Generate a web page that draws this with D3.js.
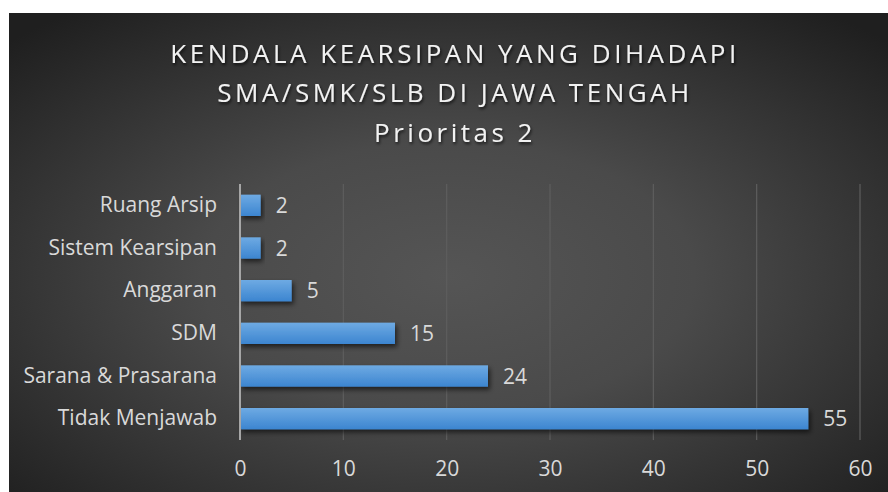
<!DOCTYPE html>
<html>
<head>
<meta charset="utf-8">
<script src="https://cdn.jsdelivr.net/npm/d3@7"></script>
<style>
  body { margin: 0; background: #fff; }
  text { font-family: "Open Sans", "Noto Sans", sans-serif; }
</style>
</head>
<body>
<div id="chart"></div>
<script>
// data, top of chart first
const categories = ["Ruang Arsip", "Sistem Kearsipan", "Anggaran", "SDM", "Sarana & Prasarana", "Tidak Menjawab"];
const values = [2, 2, 5, 15, 24, 55];
const xTicks = [0, 10, 20, 30, 40, 50, 60];
const titleLines = ["KENDALA KEARSIPAN YANG DIHADAPI", "SMA/SMK/SLB DI JAWA TENGAH", "Prioritas 2"];

const width = 888, height = 492;

let svg = d3.select("#chart")
    .append("svg")
    .attr("width", width)
    .attr("height", height);

let defs = svg.append("defs");

// dark radial background
let bg = defs.append("radialGradient")
    .attr("id", "bg")
    .attr("cx", "50%").attr("cy", "55%").attr("r", "70%");
bg.append("stop").attr("offset", "0%").attr("stop-color", "#555555");
bg.append("stop").attr("offset", "40%").attr("stop-color", "#4a4a4a");
bg.append("stop").attr("offset", "100%").attr("stop-color", "#1f1f1f");

// bar gradient
let bar = defs.append("linearGradient")
    .attr("id", "bar")
    .attr("x1", 0).attr("y1", 0).attr("x2", 0).attr("y2", 1);
bar.append("stop").attr("offset", "0%").attr("stop-color", "#6eaae3");
bar.append("stop").attr("offset", "100%").attr("stop-color", "#3c85d0");

let shadow = defs.append("filter").attr("id", "shadow")
    .attr("x", "-10%").attr("y", "-30%").attr("width", "130%").attr("height", "190%");
shadow.append("feDropShadow")
    .attr("dx", 2).attr("dy", 3).attr("stdDeviation", 2.5)
    .attr("flood-color", "#000").attr("flood-opacity", 0.6);

let tshadow = defs.append("filter").attr("id", "tshadow");
tshadow.append("feDropShadow")
    .attr("dx", 1).attr("dy", 2).attr("stdDeviation", 1.5)
    .attr("flood-color", "#000").attr("flood-opacity", 0.7);

svg.append("rect")
    .attr("x", 9).attr("y", 13)
    .attr("width", width - 9).attr("height", height - 13)
    .attr("fill", "url(#bg)");

// title
svg.append("g")
    .attr("filter", "url(#tshadow)")
    .selectAll("text")
    .data(titleLines)
    .join("text")
    .attr("x", 455)
    .attr("y", (d, i) => 63 + i * 39.3)
    .attr("text-anchor", "middle")
    .attr("fill", "#f2f2f2")
    .attr("font-size", 26)
    .attr("letter-spacing", 3.5)
    .text(d => d);

// scales
const x = d3.scaleLinear().domain([0, 60]).range([240, 860]);
const y = d3.scaleBand().domain(categories).range([184, 440]).paddingInner(0.5).paddingOuter(0.25);

// gridlines
svg.append("g")
    .selectAll("line")
    .data(xTicks.slice(1))
    .join("line")
    .attr("x1", d => x(d)).attr("x2", d => x(d))
    .attr("y1", 184).attr("y2", 440)
    .attr("stroke", "#5e5e5e")
    .attr("stroke-width", 1.2);

// bars
svg.append("g")
    .selectAll("rect")
    .data(values)
    .join("rect")
    .attr("x", x(0))
    .attr("y", (d, i) => y(categories[i]))
    .attr("width", d => x(d) - x(0))
    .attr("height", y.bandwidth())
    .attr("fill", "url(#bar)")
    .attr("filter", "url(#shadow)");

// value labels
svg.append("g")
    .selectAll("text")
    .data(values)
    .join("text")
    .attr("x", d => x(d) + 15)
    .attr("y", (d, i) => y(categories[i]) + y.bandwidth() / 2)
    .attr("dy", "0.36em")
    .attr("fill", "#d9d9d9")
    .attr("font-size", 21)
    .text(d => d);

// category axis
let yAxis = svg.append("g")
    .attr("transform", `translate(${x(0)},0)`)
    .call(d3.axisLeft(y).tickSize(0).tickPadding(23));
yAxis.select(".domain").remove();
yAxis.append("line")
    .attr("x1", 0).attr("x2", 0)
    .attr("y1", 184).attr("y2", 440)
    .attr("stroke", "#a6a6a6")
    .attr("stroke-width", 2);
yAxis.selectAll(".tick text")
    .attr("fill", "#d9d9d9")
    .attr("font-size", 21);

// value axis
let xAxis = svg.append("g")
    .attr("transform", "translate(0,440)")
    .call(d3.axisBottom(x).tickValues(xTicks).tickSize(0).tickPadding(21));
xAxis.select(".domain").remove();
xAxis.selectAll(".tick text")
    .attr("fill", "#d9d9d9")
    .attr("font-size", 21);
</script>
</body>
</html>
